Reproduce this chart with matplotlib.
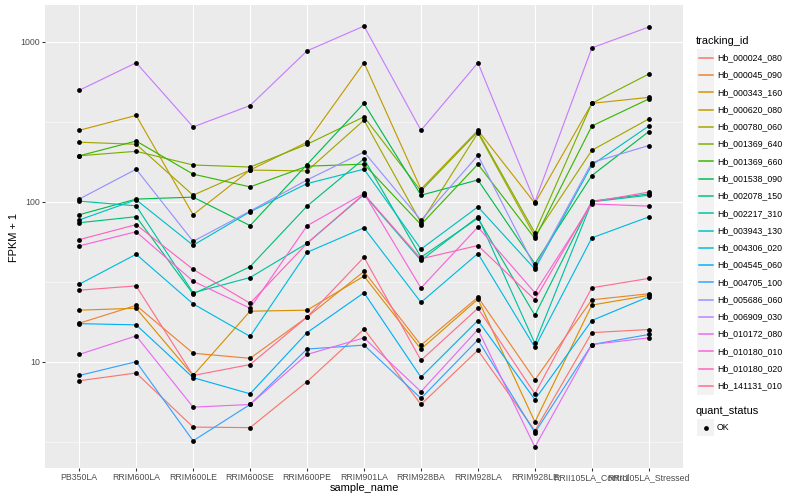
import numpy as np
import matplotlib
matplotlib.use('Agg')
import matplotlib.pyplot as plt
from matplotlib.patches import Rectangle
from matplotlib.lines import Line2D
from matplotlib.ticker import NullFormatter

plt.rcParams['font.family'] = ['Liberation Sans', 'DejaVu Sans']

samples = ['PB350LA', 'RRIM600LA', 'RRIM600LE', 'RRIM600SE', 'RRIM600PE', 'RRIM901LA',
           'RRIM928BA', 'RRIM928LA', 'RRIM928LE', 'RRII105LA_Control', 'RRII105LA_Stressed']

tracking_ids = ['Hb_000024_080', 'Hb_000045_090', 'Hb_000343_160', 'Hb_000620_080',
                'Hb_000780_060', 'Hb_001369_640', 'Hb_001369_660', 'Hb_001538_090',
                'Hb_002078_150', 'Hb_002217_310', 'Hb_003943_130', 'Hb_004306_020',
                'Hb_004545_060', 'Hb_004705_100', 'Hb_005686_060', 'Hb_006909_030',
                'Hb_010172_080', 'Hb_010180_010', 'Hb_010180_020', 'Hb_141131_010']

# ggplot hue palette for 20 levels
colors = ['#F8766D', '#EA8331', '#D89000', '#C09B00', '#A3A500', '#7CAE00', '#39B600',
          '#00BB4E', '#00BF7D', '#00C1A3', '#00BFC4', '#00BAE0', '#00B0F6', '#35A2FF',
          '#9590FF', '#C77CFF', '#E76BF3', '#FA62DB', '#FF62BC', '#FF6C91']

# FPKM + 1, one list per tracking_id, in sample order
hb_000024_080 = [7.6, 8.5, 3.9, 3.87, 7.5, 16.0, 5.4, 11.8, 3.7, 15.2, 15.9]
hb_000045_090 = [17.4, 22.5, 11.3, 10.5, 19.0, 36.7, 12.7, 25.3, 7.7, 24.4, 26.6]
hb_000343_160 = [21.0, 21.6, 8.2, 20.7, 21.0, 34.3, 12.0, 24.6, 4.2, 22.6, 26.0]
hb_000620_080 = [280, 347, 83, 158, 236, 741, 120, 280, 98, 413, 450]
hb_000780_060 = [236, 229, 110, 158, 156, 324, 74, 270, 61, 210, 330]
hb_001369_640 = [194, 207, 170, 165, 229, 340, 117, 275, 64, 413, 630]
hb_001369_660 = [194, 240, 149, 124, 167, 172, 72, 172, 59, 298, 440]
hb_001538_090 = [83, 104, 107, 71, 171, 413, 110, 137, 41, 146, 275]
hb_002078_150 = [74, 80.7, 26.5, 39.3, 94, 186, 45, 79, 19.5, 101, 112]
hb_002217_310 = [101, 94.4, 27, 33.6, 55, 111, 43, 80.5, 13, 100, 110]
hb_003943_130 = [77, 103, 53.5, 86.6, 130, 160, 50.6, 93, 38, 170, 298]
hb_004306_020 = [30.5, 47, 23, 14.4, 48.3, 68.8, 23.5, 47.5, 12.3, 59.5, 80.5]
hb_004545_060 = [17.3, 17.0, 7.95, 6.3, 15.2, 27, 8.0, 18.1, 5.8, 18.1, 25.5]
hb_004705_100 = [8.2, 10.0, 3.2, 5.4, 12.0, 12.7, 5.9, 13.7, 3.6, 12.8, 14.8]
hb_005686_060 = [104, 160, 56.6, 87.5, 137, 205, 76.7, 195, 39, 176, 225]
hb_006909_030 = [498, 741, 294, 400, 879, 1257, 280, 741, 100, 918, 1240]
hb_010172_080 = [11.1, 14.5, 5.2, 5.4, 11.1, 14.1, 6.5, 15.9, 2.93, 12.8, 14.1]
hb_010180_010 = [53, 65, 31.9, 21.6, 70.8, 113, 28.9, 69.5, 27, 97, 94]
hb_010180_020 = [58, 72, 37.8, 23.2, 55, 112, 44, 53.3, 24.4, 100, 115]
hb_141131_010 = [28, 29.8, 8.2, 9.6, 19.0, 45, 10.2, 21.6, 6.3, 29, 33.2]

series = [hb_000024_080, hb_000045_090, hb_000343_160, hb_000620_080, hb_000780_060,
          hb_001369_640, hb_001369_660, hb_001538_090, hb_002078_150, hb_002217_310,
          hb_003943_130, hb_004306_020, hb_004545_060, hb_004705_100, hb_005686_060,
          hb_006909_030, hb_010172_080, hb_010180_010, hb_010180_020, hb_141131_010]

W, H = 800, 500
fig = plt.figure(figsize=(8, 5), dpi=100)
px = 72 / 100  # points per pixel

# panel box in pixels
left, right, top, bottom = 45, 683, 5, 468
ax = fig.add_axes([left / W, 1 - bottom / H, (right - left) / W, (bottom - top) / H])
ax.set_facecolor('#EBEBEB')
for s in ax.spines.values():
    s.set_visible(False)

x = np.arange(len(samples))
for vals, c in zip(series, colors):
    ax.plot(x, vals, color=c, lw=1.15 * px, zorder=3, solid_capstyle='butt')
for vals in series:
    ax.plot(x, vals, 'o', color='black', ms=4.8 * px, mew=0, zorder=4)

ax.set_yscale('log')
allv = np.concatenate([np.asarray(v, float) for v in series])
lo, hi = np.log10(allv.min()), np.log10(allv.max())
pad = 0.05 * (hi - lo)
ax.set_ylim(10 ** (lo - pad), 10 ** (hi + pad))
ax.set_xlim(-0.6, len(samples) - 0.4)

ax.set_yticks([10, 100, 1000])
ax.set_yticklabels(['10', '100', '1000'])
ax.set_yticks([10 ** 0.5, 10 ** 1.5, 10 ** 2.5], minor=True)
ax.yaxis.set_minor_formatter(NullFormatter())
ax.set_xticks(x)
ax.set_xticklabels(samples)

ax.grid(which='major', color='white', lw=1.07 * px, zorder=1)
ax.grid(which='minor', axis='y', color='white', lw=0.55 * px, zorder=1)
ax.set_axisbelow(True)
ax.tick_params(which='major', length=2.75 * px, width=1.07 * px, color='#333333',
               labelsize=8.8 * px, labelcolor='#4D4D4D', pad=2.2 * px)
ax.tick_params(which='minor', length=0)

fig.text(364 / W, 1 - 488 / H, 'sample_name', ha='center', va='center', fontsize=11 * px)
fig.text(14 / W, 1 - 237 / H, 'FPKM + 1', ha='center', va='center', rotation=90,
         fontsize=11 * px)

# legends drawn by hand in ggplot layout
def fx(v):
    return v / W

def fy(v):
    return 1 - v / H

key = 17.28
fig.text(fx(696), fy(40.5), 'tracking_id', ha='left', va='center', fontsize=11 * px)
for i, (name, c) in enumerate(zip(tracking_ids, colors)):
    cy = 57.7 + i * key
    fig.add_artist(Rectangle((fx(697), fy(cy + key / 2)), key / W, key / H,
                             transform=fig.transFigure, facecolor='#F2F2F2',
                             edgecolor='none'))
    fig.add_artist(Line2D([fx(698.7), fx(712.6)], [fy(cy), fy(cy)], color=c,
                          lw=1.5 * px, transform=fig.transFigure))
    fig.text(fx(717), fy(cy), name, ha='left', va='center', fontsize=8.8 * px)

fig.text(fx(696), fy(411.5), 'quant_status', ha='left', va='center', fontsize=11 * px)
cy = 427.5
fig.add_artist(Rectangle((fx(697), fy(cy + key / 2)), key / W, key / H,
                         transform=fig.transFigure, facecolor='#F2F2F2', edgecolor='none'))
fig.add_artist(Line2D([fx(705.6)], [fy(cy)], marker='o', color='black', ms=4.8 * px,
                      mew=0, transform=fig.transFigure))
fig.text(fx(717), fy(cy), 'OK', ha='left', va='center', fontsize=8.8 * px)

fig.savefig('out.png', dpi=100)
